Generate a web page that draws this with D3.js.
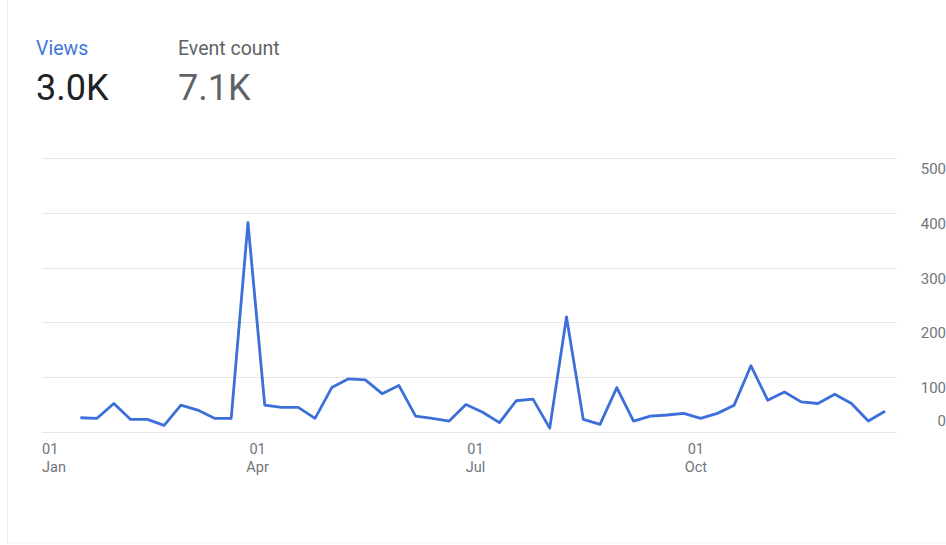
<!DOCTYPE html>
<html>
<head>
<meta charset="utf-8">
<script src="https://cdn.jsdelivr.net/npm/d3@7"></script>
<style>
  body { margin: 0; background: #fff; }
  text { font-family: Roboto, "Noto Sans", sans-serif; }
</style>
</head>
<body>
<div id="chart"></div>
<script>
// metric cards at the top
const metricNames = ['Views', 'Event count'];
const metricValues = ['3.0K', '7.1K'];

// weekly views
const firstWeek = new Date(2023, 0, 17);
const views = [
  26, 25, 52, 23, 23, 12, 49, 40, 25, 25,
  382, 49, 45, 45, 25, 81, 97, 95, 70, 85,
  29, 25, 20, 50, 36, 17, 57, 60, 7, 210,
  23, 14, 81, 20, 29, 31, 34, 25, 34, 49,
  121, 58, 73, 55, 52, 69, 52, 20, 38
];
const weeks = views.map((v, i) => d3.timeDay.offset(firstWeek, i * 7));

const yTicks = [0, 100, 200, 300, 400, 500];
const xTickDates = [new Date(2023, 0, 1), new Date(2023, 3, 1), new Date(2023, 6, 1), new Date(2023, 9, 1)];
const xTickDays = ['01', '01', '01', '01'];
const xTickMonths = ['Jan', 'Apr', 'Jul', 'Oct'];

const W = 946, H = 545;
const margin = { top: 158, right: 49, bottom: 113, left: 42 };
const width = W - margin.left - margin.right;
const height = H - margin.top - margin.bottom;

const svg = d3.select('#chart').append('svg')
  .attr('width', W)
  .attr('height', H);

// faint card outline (left + bottom edges visible)
svg.append('rect')
  .attr('x', 7.5).attr('y', -10)
  .attr('width', 1000).attr('height', 553)
  .attr('fill', '#fff')
  .attr('stroke', '#efefef');

// header
const header = svg.selectAll('g.metric')
  .data(metricNames)
  .enter().append('g')
  .attr('class', 'metric')
  .attr('transform', (d, i) => 'translate(' + (36 + i * 142) + ',0)');

header.append('text')
  .attr('y', 55)
  .attr('font-size', 19.5)
  .attr('fill', (d, i) => i === 0 ? '#3f78d9' : '#5f6368')
  .text(d => d);

header.append('text')
  .attr('y', 100)
  .attr('font-size', 36)
  .attr('fill', (d, i) => i === 0 ? '#202124' : '#5f6368')
  .text((d, i) => metricValues[i]);

const group = svg.append('g')
  .attr('transform', 'translate(' + margin.left + ',' + margin.top + ')');

const xScale = d3.scaleTime()
  .domain([new Date(2023, 0, 1), new Date(2023, 11, 24)])
  .range([0, width]);
const yScale = d3.scaleLinear().domain([0, 500]).range([height, 0]);

// grid lines
group.selectAll('line.grid')
  .data(yTicks)
  .enter().append('line')
  .attr('class', 'grid')
  .attr('x1', 0).attr('x2', width)
  .attr('y1', d => Math.round(yScale(d)) + 0.5)
  .attr('y2', d => Math.round(yScale(d)) + 0.5)
  .attr('stroke', '#e6e6e6');

// y labels on the right, below their line (0 sits above)
group.selectAll('text.ylab')
  .data(yTicks)
  .enter().append('text')
  .attr('class', 'ylab')
  .attr('x', W - margin.left)
  .attr('y', d => d === 0 ? yScale(d) - 6 : yScale(d) + 16)
  .attr('text-anchor', 'end')
  .attr('font-size', 15)
  .attr('fill', '#70757a')
  .text(d => d);

// x labels: day on top, month underneath
const xl = group.selectAll('g.xlab')
  .data(xTickDates)
  .enter().append('g')
  .attr('class', 'xlab')
  .attr('transform', d => 'translate(' + xScale(d) + ',' + height + ')');

xl.append('text')
  .attr('y', 22)
  .attr('text-anchor', (d, i) => i === 0 ? 'start' : 'middle')
  .attr('font-size', 14.5)
  .attr('fill', '#70757a')
  .text((d, i) => xTickDays[i]);

xl.append('text')
  .attr('y', 40)
  .attr('text-anchor', (d, i) => i === 0 ? 'start' : 'middle')
  .attr('font-size', 14.5)
  .attr('fill', '#70757a')
  .text((d, i) => xTickMonths[i]);

// the line
const line = d3.line()
  .x((d, i) => xScale(weeks[i]))
  .y(d => yScale(d));

group.append('path')
  .datum(views)
  .attr('d', line)
  .attr('fill', 'none')
  .attr('stroke', '#3c6fd7')
  .attr('stroke-width', 2.8)
  .attr('stroke-linejoin', 'round');
</script>
</body>
</html>
